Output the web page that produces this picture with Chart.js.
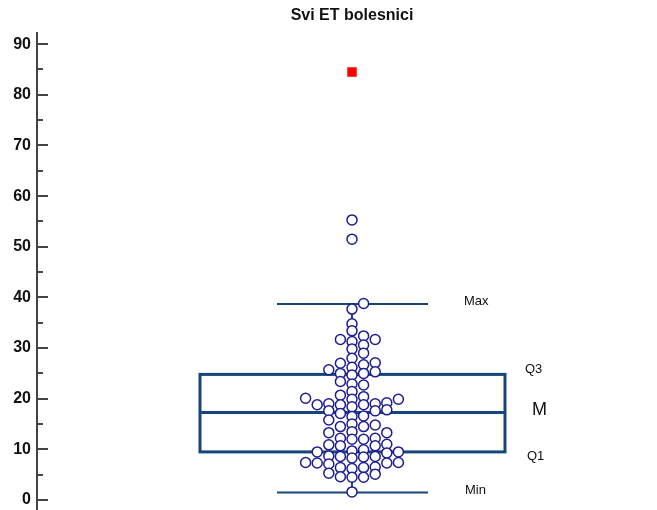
<!DOCTYPE html>
<html>
<head>
<meta charset="utf-8">
<script src="https://cdn.jsdelivr.net/npm/chart.js@4.4.1/dist/chart.umd.min.js"></script>
<style>
  html, body { margin: 0; padding: 0; background: #fff; }
  #wrap { width: 657px; height: 510px; position: relative; }
</style>
</head>
<body>
<div id="wrap"><canvas id="boxChart"></canvas></div>
<script>
const TITLE = 'Svi ET bolesnici';

// pojedinačne vrijednosti (očitane sa slike)
const values = [
  38.8, 37.7, 34.8, 33.4, 32.4, 31.3, 31.7, 31.7, 30.6, 29.8,
  29.0, 28.0, 27.1, 27.0, 26.7, 26.2, 25.7, 25.0, 25.0, 25.3,
  24.7, 22.9, 23.4, 22.7, 21.4, 20.1, 19.9, 19.9, 20.4, 20.7,
  19.2, 18.4, 18.8, 18.8, 18.8, 19.0, 19.0, 17.6, 17.6, 17.8,
  17.1, 16.5, 16.6, 15.8, 15.0, 14.5, 14.8, 14.5, 13.3, 13.3,
  13.5, 12.0, 12.0, 12.2, 12.2, 10.7, 10.7, 10.9, 11.0, 9.7,
  9.3, 9.5, 9.5, 9.9, 8.7, 8.6, 8.6, 8.5, 8.3, 7.4,
  7.3, 7.3, 7.1, 7.4, 6.5, 6.4, 6.2, 6.4, 4.5, 4.5,
  4.6, 5.1, 5.3, 1.6
];
const outliers = [51.5, 55.3];
const farOutliers = [84.5];

// statistika kutije
const statLabels = ['Min', 'Q1', 'M', 'Q3', 'Max'];
const statValues = [1.5, 9.5, 17.3, 24.8, 38.7];

const Y_MIN = -1.97;
const Y_MAX = 92.2;
const Y_STEP = 10;
const CENTER_PX = 352; // gdje stoji kutija (vodoravno)

const FONT = '"Liberation Sans", Arial, sans-serif';
const BOX_COLOR = '#17457a';
const DOT_COLOR = '#1c1c94';
const AXIS_COLOR = '#444';

/**
 * Jednostavan "beeswarm": točke se razmiču vodoravno kad bi se preklopile
 */
function swarmOffsets(vals, yScale, step, gapX, gapY) {
  const order = vals.map((v, i) => i).sort((a, b) => vals[a] - vals[b]);
  const placed = [];
  const xs = new Array(vals.length).fill(0);
  for (const i of order) {
    const py = yScale.getPixelForValue(vals[i]);
    for (let k = 0; k < 60; k++) {
      const off = (k % 2 === 1 ? 1 : -1) * Math.ceil(k / 2) * step;
      const clash = placed.some(p => Math.abs(p.x - off) < gapX && Math.abs(p.y - py) < gapY);
      if (!clash) {
        xs[i] = off;
        placed.push({ x: off, y: py });
        break;
      }
    }
  }
  return xs;
}

const boxPlugin = {
  id: 'boxPlugin',
  beforeDatasetsDraw(chart) {
    const { ctx, scales: { x, y } } = chart;
    const cx = x.getPixelForValue(0);
    const [vMin, q1, med, q3, vMax] = statValues.map(v => y.getPixelForValue(v));
    const boxL = x.getPixelForValue(-152), boxR = x.getPixelForValue(153);
    const capL = x.getPixelForValue(-75), capR = x.getPixelForValue(76);

    ctx.save();
    ctx.strokeStyle = BOX_COLOR;
    ctx.lineCap = 'butt';

    // brkovi
    ctx.lineWidth = 2;
    ctx.beginPath();
    ctx.moveTo(cx, vMax); ctx.lineTo(cx, q3);
    ctx.moveTo(cx, q1); ctx.lineTo(cx, vMin);
    ctx.moveTo(capL, vMax); ctx.lineTo(capR, vMax);
    ctx.moveTo(capL, vMin); ctx.lineTo(capR, vMin);
    ctx.stroke();

    // kutija + medijan
    ctx.lineWidth = 3;
    ctx.strokeRect(boxL, q3, boxR - boxL, q1 - q3);
    ctx.beginPath();
    ctx.moveTo(boxL, med); ctx.lineTo(boxR, med);
    ctx.stroke();

    // oznake
    ctx.fillStyle = '#111';
    ctx.textBaseline = 'middle';
    ctx.textAlign = 'left';
    const labelPos = {
      Min: [113, -2, 13], Q1: [175, 4.5, 13], M: [180, -2, 18], Q3: [173, -4.5, 13], Max: [112, -2.5, 13]
    };
    statLabels.forEach((lab, i) => {
      const [dx, dy, size] = labelPos[lab];
      ctx.font = size + 'px ' + FONT;
      ctx.fillText(lab, cx + dx, y.getPixelForValue(statValues[i]) + dy);
    });

    // naslov
    ctx.font = 'bold 16px ' + FONT;
    ctx.textAlign = 'center';
    ctx.fillText(TITLE, cx, 16);

    // kratke crtice na osi (prema unutra)
    ctx.strokeStyle = AXIS_COLOR;
    ctx.lineWidth = 2;
    const left = chart.chartArea.left;
    ctx.beginPath();
    for (let v = 0; v <= 90; v += 5) {
      const py = Math.round(y.getPixelForValue(v));
      const len = v % 10 === 0 ? 11 : 6;
      ctx.moveTo(left, py); ctx.lineTo(left + len, py);
    }
    ctx.stroke();
    ctx.restore();
  }
};

const ctx = document.getElementById('boxChart');
const chart = new Chart(ctx, {
  type: 'scatter',
  data: {
    datasets: [
      {
        label: 'vrijednosti',
        data: values.concat(outliers).map(v => ({ x: 0, y: v })),
        pointStyle: 'circle',
        radius: 5,
        borderWidth: 1.5,
        borderColor: DOT_COLOR,
        backgroundColor: '#fff'
      },
      {
        label: 'ekstrem',
        data: farOutliers.map(v => ({ x: 0, y: v })),
        pointStyle: 'rect',
        radius: 6.7,
        borderWidth: 0,
        backgroundColor: '#ff0000'
      }
    ]
  },
  options: {
    animation: false,
    responsive: true,
    maintainAspectRatio: false,
    layout: { autoPadding: false, padding: { top: 33, right: 0, bottom: 0, left: 0 } },
    plugins: {
      legend: { display: false },
      tooltip: { enabled: false },
      title: { display: false }
    },
    scales: {
      x: {
        type: 'linear',
        display: false,
        min: -315,
        max: 305
      },
      y: {
        min: Y_MIN,
        max: Y_MAX,
        afterFit(scale) {
          scale.width = 37;
          scale.paddingTop = 0;
          scale.paddingBottom = 0;
        },
        border: { display: true, color: AXIS_COLOR, width: 2 },
        grid: { display: true, drawOnChartArea: false, drawTicks: false },
        ticks: {
          stepSize: Y_STEP,
          includeBounds: false,
          padding: 6,
          color: '#111',
          font: { family: FONT, size: 16, weight: 'bold' }
        }
      }
    }
  },
  plugins: [boxPlugin]
});

// x os: kutija centrirana na CENTER_PX, 1 jedinica = 1 piksel
const area = chart.chartArea;
chart.options.scales.x.min = -(CENTER_PX - area.left);
chart.options.scales.x.max = area.right - CENTER_PX;
chart.update('none');

// raspored točaka nakon što su skale izračunate
const allVals = values.concat(outliers);
const offs = swarmOffsets(allVals, chart.scales.y, 5.8, 11, 6.8);
const x0 = chart.scales.x.getPixelForValue(0);
chart.data.datasets[0].data = allVals.map((v, i) => ({
  x: chart.scales.x.getValueForPixel(x0 + offs[i]),
  y: v
}));
chart.update('none');
</script>
</body>
</html>
